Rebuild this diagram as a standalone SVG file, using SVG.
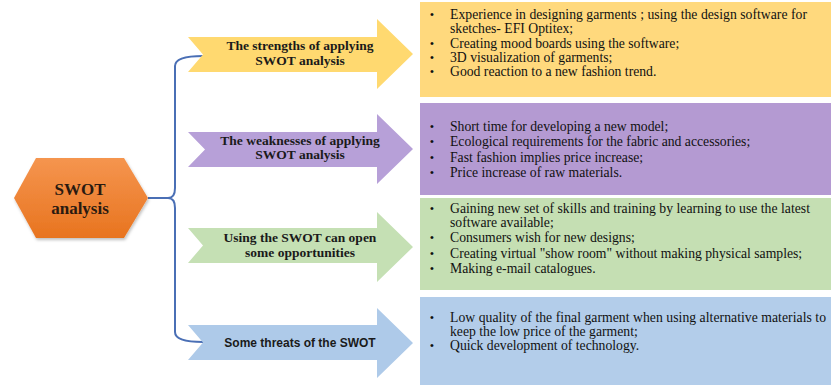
<svg xmlns="http://www.w3.org/2000/svg" width="831" height="385" viewBox="0 0 831 385">
<defs>
<linearGradient id="hexg" x1="0" y1="0" x2="0" y2="1">
<stop offset="0" stop-color="#F5954F"/>
<stop offset="1" stop-color="#E8741F"/>
</linearGradient>
<filter id="sh" x="-10%" y="-10%" width="120%" height="130%">
<feDropShadow dx="1" dy="2" stdDeviation="1.5" flood-color="#000" flood-opacity="0.25"/>
</filter>
</defs>
<style>
.lbl{font-family:"Liberation Serif","Times New Roman",serif;font-weight:bold;font-size:13.5px;fill:#1a1a1a;text-anchor:middle}
.lbls{font-family:"Liberation Sans",Arial,sans-serif;font-weight:bold;font-size:12px;fill:#1a1a1a;text-anchor:middle}
.hex{font-family:"Liberation Serif","Times New Roman",serif;font-weight:bold;font-size:17px;fill:#2a1a10;text-anchor:middle}
.item{font-family:"Liberation Serif","Times New Roman",serif;font-size:13.7px;fill:#111}
.bul{font-family:"Liberation Sans",Arial,sans-serif;font-size:11px;fill:#111}
.conn{fill:none;stroke:#4A6FB5;stroke-width:2}
</style>
<rect width="831" height="385" fill="#fff"/>

<g id="connectors">
<path class="conn" d="M148,198 L168,198"/>
<path class="conn" d="M203,56 Q175,56 175,66 L175,188 Q175,198 168,198 Q175,198 175,208 L175,332 Q175,342 203,342"/>
</g>

<g id="swot">
<polygon points="14,198 36,158 124,158 148,198 124,238 36,238" fill="url(#hexg)" filter="url(#sh)"/>
<text class="hex" x="80" y="195">SWOT</text>
<text class="hex" x="80" y="214">analysis</text>
</g>

<g id="strengths">
<polygon points="188,37 377,37 377,19 413,54 377,89 377,72 188,72 203,54.5" fill="#FFD970"/>
<text class="lbl" x="300" y="50">The strengths of applying</text>
<text class="lbl" x="300" y="65">SWOT analysis</text>
</g>
<g id="weaknesses">
<polygon points="188,132 377,132 377,114 413,149 377,184 377,167 188,167 205,149.5" fill="#B7A0D8"/>
<text class="lbl" x="300" y="145">The weaknesses of applying</text>
<text class="lbl" x="300" y="159">SWOT analysis</text>
</g>
<g id="opportunities">
<polygon points="188,228 377,228 377,212 413,247 377,282 377,263 188,263 203,245.5" fill="#C5E0B4"/>
<text class="lbl" x="300" y="242">Using the SWOT can open</text>
<text class="lbl" x="300" y="257">some opportunities</text>
</g>
<g id="threats">
<polygon points="188,325 377,325 377,308 413,343 377,378 377,360 188,360 203,342.5" fill="#AECAE9"/>
<text class="lbls" x="300" y="347">Some threats of the SWOT</text>
</g>

<g id="strengths-list">
<rect x="420" y="2" width="411" height="95" fill="#FFD97D"/>
<text class="bul" x="430" y="18">•</text>
<text class="item" x="450" y="19" textLength="357" lengthAdjust="spacing">Experience in designing garments ; using the design software for</text>
<text class="item" x="450" y="33">sketches- EFI Optitex;</text>
<text class="bul" x="430" y="47">•</text>
<text class="item" x="450" y="48">Creating mood boards using the software;</text>
<text class="bul" x="430" y="61">•</text>
<text class="item" x="450" y="62">3D visualization  of garments;</text>
<text class="bul" x="430" y="75">•</text>
<text class="item" x="450" y="76">Good reaction to a new fashion trend.</text>
</g>

<g id="weaknesses-list">
<rect x="420" y="103" width="411" height="92" fill="#B49AD2"/>
<text class="bul" x="430" y="130">•</text>
<text class="item" x="450" y="131">Short time  for developing  a new model;</text>
<text class="bul" x="430" y="145">•</text>
<text class="item" x="450" y="146">Ecological requirements  for the fabric and accessories;</text>
<text class="bul" x="430" y="161">•</text>
<text class="item" x="450" y="162">Fast fashion implies  price increase;</text>
<text class="bul" x="430" y="176">•</text>
<text class="item" x="450" y="177">Price increase  of raw materials.</text>
</g>

<g id="opportunities-list">
<rect x="420" y="198" width="411" height="92" fill="#C5DFB3"/>
<text class="bul" x="430" y="212">•</text>
<text class="item" x="450" y="213" textLength="360" lengthAdjust="spacing">Gaining  new set of skills  and training  by learning  to use the latest</text>
<text class="item" x="450" y="227">software available;</text>
<text class="bul" x="430" y="241">•</text>
<text class="item" x="450" y="242">Consumers wish for new designs;</text>
<text class="bul" x="430" y="257">•</text>
<text class="item" x="450" y="258">Creating  virtual  "show room" without making  physical samples;</text>
<text class="bul" x="430" y="272">•</text>
<text class="item" x="450" y="273">Making  e-mail  catalogues.</text>
</g>

<g id="threats-list">
<rect x="420" y="297" width="411" height="88" fill="#B3CDEA"/>
<text class="bul" x="430" y="321">•</text>
<text class="item" x="450" y="322" textLength="376" lengthAdjust="spacing">Low quality  of the final  garment  when  using alternative  materials  to</text>
<text class="item" x="450" y="336">keep the low price of the garment;</text>
<text class="bul" x="430" y="349">•</text>
<text class="item" x="450" y="350">Quick development  of technology.</text>
</g>
</svg>
